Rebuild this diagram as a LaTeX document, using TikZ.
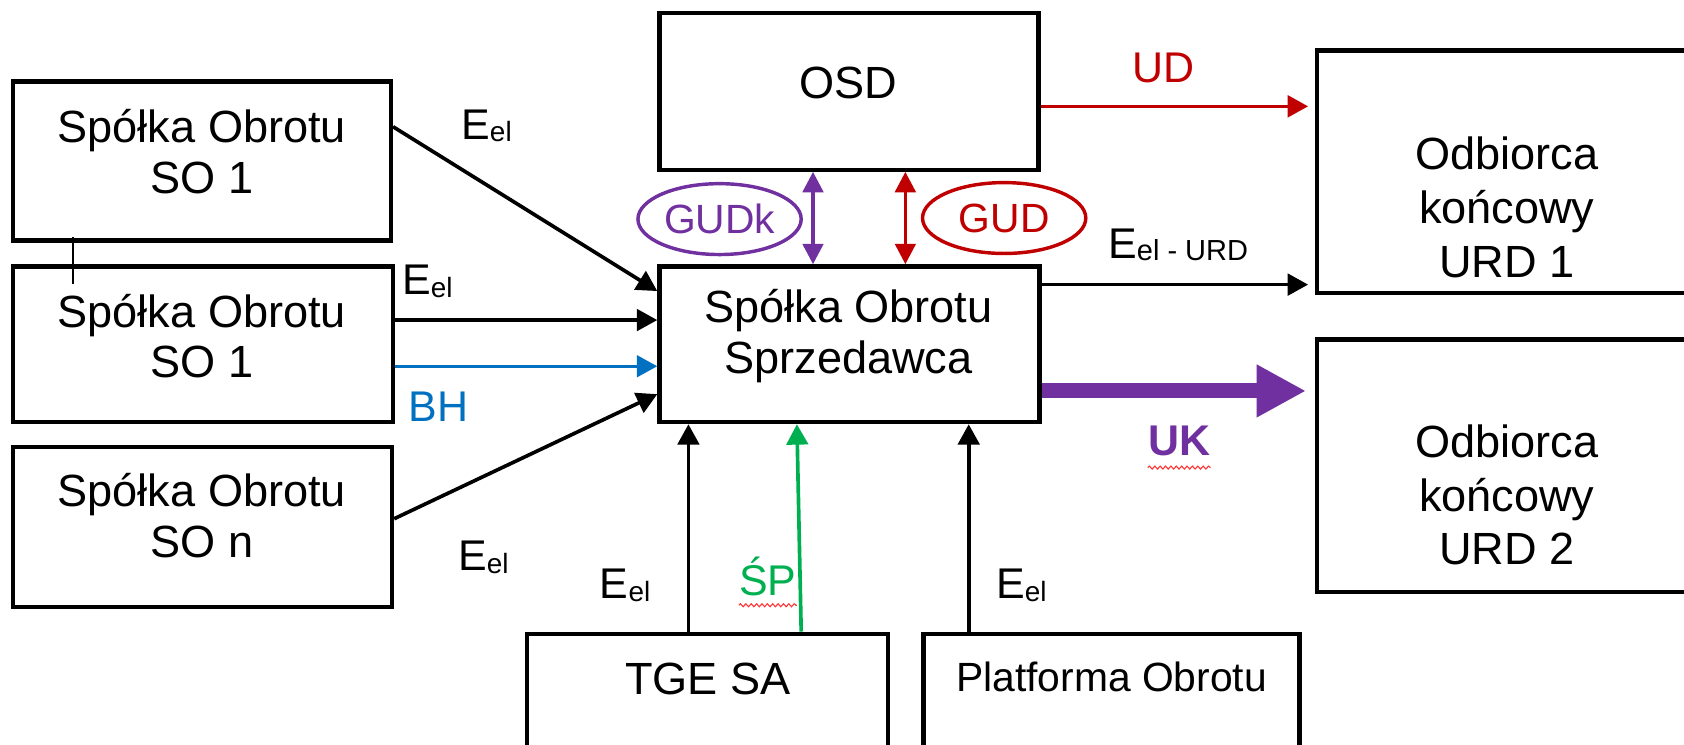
\documentclass[tikz,border=0pt]{standalone}
\usepackage{fontspec}
\setmainfont{Liberation Sans}
\usetikzlibrary{arrows.meta,shapes.geometric,decorations.pathmorphing}
\definecolor{cred}{HTML}{C00000}
\definecolor{cpurple}{HTML}{7030A0}
\definecolor{cblue}{HTML}{0070C0}
\definecolor{cgreen}{HTML}{00B050}
\newcommand{\Eel}{E\raisebox{-1pt}{\fontsize{13}{13}\selectfont el}}
\newcommand{\EelURD}{E\raisebox{-1pt}{\fontsize{13.5}{13.5}\selectfont el - URD}}
\tikzset{
  box/.style={draw, line width=2pt, rectangle, inner sep=0pt},
  txt/.style={align=center, font=\fontsize{21}{23.5}\selectfont, inner sep=0pt},
  txtb/.style={align=center, font=\fontsize{21}{25}\selectfont, inner sep=0pt},
  lbl/.style={font=\fontsize{20}{22}\selectfont, inner sep=0pt},
  arr/.style={line width=1.7pt, -{Triangle[length=9.5pt,width=10pt]}},
  darr/.style={line width=1.7pt, {Triangle[length=9.5pt,width=9.5pt]}-{Triangle[length=9.5pt,width=9.5pt]}},
  ell/.style={ellipse, draw, line width=1.6pt, minimum width=76pt, minimum height=33pt, inner sep=0pt, font=\fontsize{19}{21}\selectfont},
  wavy/.style={draw=red!80, line width=0.5pt, decorate, decoration={snake, amplitude=0.7pt, segment length=2.5pt}},
}
\begin{document}
\begin{tikzpicture}[x=0.5pt,y=-0.5pt]
\clip (0,0) rectangle (1568,693);
\fill[white] (0,0) rectangle (1568,693);
% boxes
\node[box, minimum width=176pt, minimum height=74pt] (so1) at (188,150) {};
\node[box, minimum width=177pt, minimum height=72.5pt] (so2) at (189,320.5) {};
\node[box, minimum width=176.5pt, minimum height=74.5pt] (son) at (188.5,490.5) {};
\node[box, minimum width=176.5pt, minimum height=73pt] (osd) at (790.5,85) {};
\node[box, minimum width=177pt, minimum height=72.5pt] (spr) at (791,320.5) {};
\node[box, minimum width=177pt, minimum height=113pt] (urd1) at (1403,160) {};
\node[box, minimum width=177pt, minimum height=117.5pt] (urd2) at (1403,433.5) {};
\node[box, minimum width=168pt, minimum height=55pt] (tge) at (659,645) {};
\node[box, minimum width=175pt, minimum height=55pt] (plat) at (1035,645) {};
% texts
\node[txt] (tso1) at (188,141) {Spółka Obrotu\\SO 1};
\node[txt] (tso2) at (188,313) {Spółka Obrotu\\SO 1};
\node[txt] (tson) at (188,480) {Spółka Obrotu\\SO n};
\node[txt] (tosd) at (790,77) {OSD};
\node[txt] (tspr) at (790,313) {Spółka Obrotu\\Sprzedawca};
\node[txtb] (turd1) at (1403,193) {Odbiorca\\końcowy\\URD 1};
\node[txtb] (turd2) at (1403,461) {Odbiorca\\końcowy\\URD 2};
\node[txt] (ttge) at (659,632) {TGE SA};
\node[txt, font=\fontsize{19}{21}\selectfont] (tplat) at (1035,630) {Platforma Obrotu};
% ellipses
\node[ell, draw=cpurple, text=cpurple] (gudk) at (670,204) {GUDk};
\node[ell, draw=cred, text=cred] (gud) at (935,203) {GUD};
% connectors left
\draw[arr] ([yshift=16pt]so1.east) -- ([yshift=24.75pt]spr.west);
\draw[arr] ([yshift=11.25pt]so2.east) -- ([yshift=11.25pt]spr.west);
\draw[arr, draw=cblue, fill=cblue, line width=1.5pt] ([yshift=-10.25pt]so2.east) -- ([yshift=-10.25pt]spr.west);
\draw[arr] ([yshift=3.75pt]son.east) -- ([yshift=-23.25pt]spr.west);
\draw[line width=0.7pt] ([xshift=-60pt,yshift=2.5pt]so1.south) -- ([xshift=-60.5pt,yshift=-9pt]so2.north);
% OSD - spr
\draw[darr, draw=cpurple, fill=cpurple] ([xshift=-16.75pt]osd.south) -- ([xshift=-17pt]spr.north);
\draw[darr, draw=cred, fill=cred] ([xshift=26.25pt]osd.south) -- ([xshift=26pt]spr.north);
% right
\draw[arr, draw=cred, fill=cred] ([yshift=-7pt]osd.east) -- ([yshift=30.5pt,xshift=-3pt]urd1.west);
\draw[arr] ([yshift=27.75pt]spr.east) -- ([yshift=-52.5pt,xshift=-3pt]urd1.west);
\draw[draw=cpurple, fill=cpurple, line width=7pt, -{Triangle[length=23pt,width=23pt]}] ([yshift=-21.75pt]spr.east) -- ([yshift=34.75pt,xshift=-4pt]urd2.west);
% bottom
\draw[arr] ([xshift=-9pt]tge.north) -- ([xshift=-75pt]spr.south);
\draw[arr, draw=cgreen, fill=cgreen] ([xshift=43.5pt]tge.north) -- ([xshift=-24.5pt]spr.south);
\draw[arr] ([xshift=-66.5pt]plat.north) -- ([xshift=55.5pt]spr.south);
% labels
\node[lbl] (l1) at (453,117) {\Eel};
\node[lbl] (l2) at (398,262) {\Eel};
\node[lbl, text=cblue] (lbh) at (408,379) {BH};
\node[lbl] (l3) at (450,519) {\Eel};
\node[lbl] (l4) at (582,545) {\Eel};
\node[lbl, text=cgreen] (lsp) at (715,537) {ŚP};
\node[lbl] (l5) at (951,545) {\Eel};
\node[lbl, text=cred] (lud) at (1083,63) {UD};
\node[lbl] (lurd) at (1097,228) {\EelURD};
\node[lbl, text=cpurple, font=\fontsize{20}{22}\selectfont\bfseries] (luk) at (1098,411) {UK};
\draw[wavy] ([yshift=-5pt]luk.south west) -- ([yshift=-5pt]luk.south east);
\draw[wavy] ([yshift=-4pt]lsp.south west) -- ([yshift=-4pt]lsp.south east);
\end{tikzpicture}
\end{document}
